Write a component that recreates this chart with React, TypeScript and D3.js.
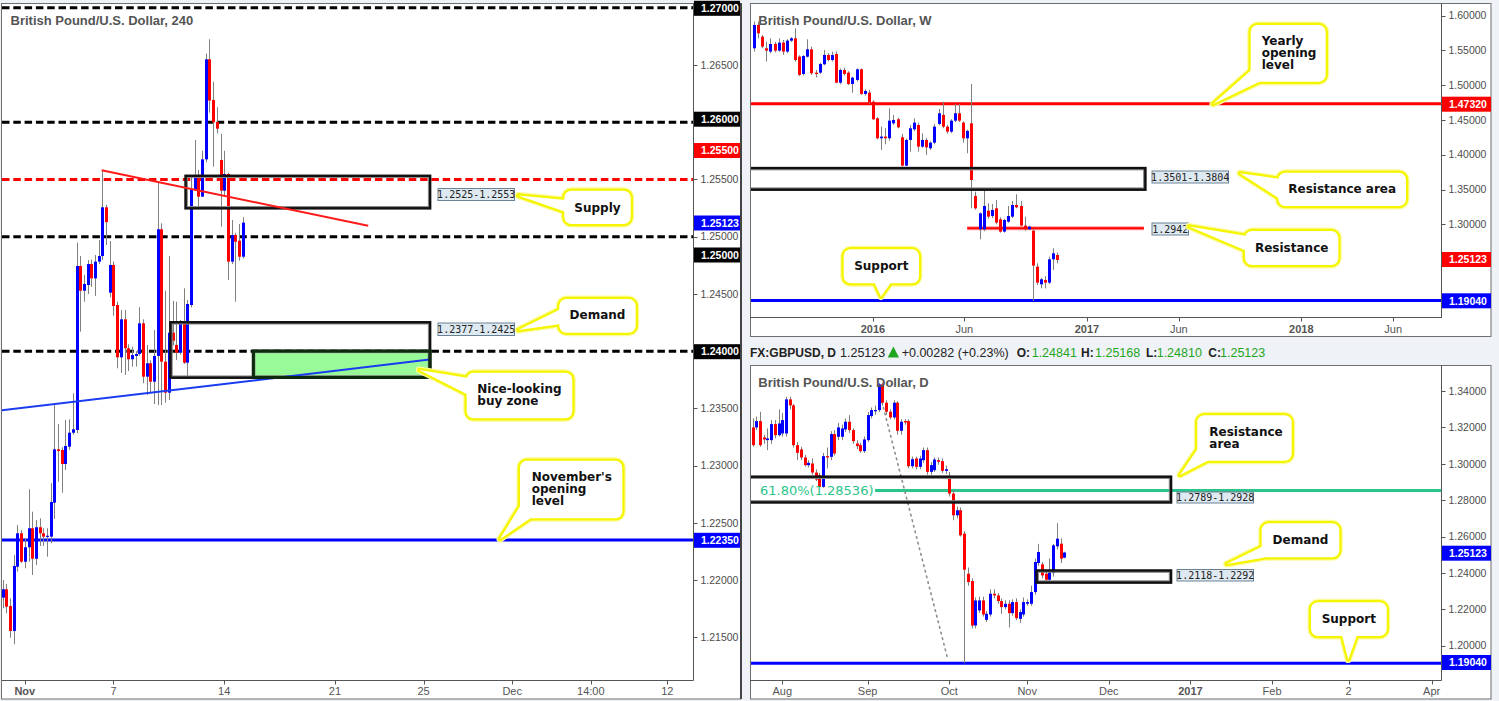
import React from "react";
import * as d3 from "d3";

type OHLC = [number, number, number, number];

// ---------- 4H chart (left) ----------
const h4Candles: OHLC[] = [
  [1.21846, 1.22, 1.21753, 1.21919],
  [1.21919, 1.21965, 1.21709, 1.21767],
  [1.21773, 1.2184, 1.21496, 1.21555],
  [1.21555, 1.22219, 1.21438, 1.22123],
  [1.22116, 1.22481, 1.22073, 1.22408],
  [1.22408, 1.22437, 1.2215, 1.2216],
  [1.2216, 1.22365, 1.22102, 1.22286],
  [1.22286, 1.22793, 1.2216, 1.22452],
  [1.22452, 1.22597, 1.22044, 1.22186],
  [1.22186, 1.22524, 1.22131, 1.22461],
  [1.22461, 1.22539, 1.22297, 1.22408],
  [1.22408, 1.22452, 1.22297, 1.22379],
  [1.22379, 1.22452, 1.22204, 1.22387],
  [1.22379, 1.22845, 1.22321, 1.22682],
  [1.22676, 1.23547, 1.22533, 1.23142],
  [1.23142, 1.23363, 1.22859, 1.23127],
  [1.23136, 1.2316, 1.22763, 1.23014],
  [1.23014, 1.23398, 1.22961, 1.23171],
  [1.23165, 1.23404, 1.23136, 1.23287],
  [1.23287, 1.23632, 1.2327, 1.23317],
  [1.23311, 1.24948, 1.23282, 1.24744],
  [1.24744, 1.24831, 1.2417, 1.24528],
  [1.24528, 1.24665, 1.24432, 1.24587],
  [1.24578, 1.24796, 1.24499, 1.24761],
  [1.24761, 1.248, 1.24563, 1.24636],
  [1.24636, 1.2484, 1.24482, 1.24782],
  [1.24782, 1.24971, 1.2476, 1.24831],
  [1.24831, 1.25583, 1.24796, 1.25257],
  [1.25257, 1.2528, 1.24927, 1.25128],
  [1.24511, 1.24962, 1.2447, 1.24753],
  [1.24753, 1.24782, 1.2431, 1.24394],
  [1.24403, 1.24432, 1.2385, 1.23946],
  [1.23946, 1.2436, 1.2381, 1.24278],
  [1.24278, 1.2436, 1.23792, 1.24025],
  [1.24025, 1.2406, 1.23826, 1.23929],
  [1.23929, 1.24039, 1.23864, 1.23966],
  [1.23958, 1.24, 1.23864, 1.23975],
  [1.23975, 1.24383, 1.2396, 1.24243],
  [1.24243, 1.24278, 1.23719, 1.23777],
  [1.23777, 1.24054, 1.23617, 1.23894],
  [1.23894, 1.2392, 1.2364, 1.23733],
  [1.23733, 1.24185, 1.23538, 1.23958],
  [1.23958, 1.25472, 1.23529, 1.25065],
  [1.25065, 1.25117, 1.23529, 1.23908],
  [1.23908, 1.24528, 1.2355, 1.23637],
  [1.23637, 1.24831, 1.23573, 1.24161],
  [1.24161, 1.2444, 1.2405, 1.24091],
  [1.24054, 1.24432, 1.23923, 1.23986],
  [1.23986, 1.24272, 1.2397, 1.24243],
  [1.24243, 1.24549, 1.23888, 1.23899],
  [1.23899, 1.24447, 1.23777, 1.24412],
  [1.24403, 1.2553, 1.24383, 1.25414],
  [1.25414, 1.25845, 1.254, 1.2553],
  [1.2553, 1.25583, 1.25262, 1.2535],
  [1.2535, 1.25751, 1.2535, 1.25676],
  [1.25676, 1.266, 1.2565, 1.2655],
  [1.2655, 1.26725, 1.26084, 1.2619],
  [1.26195, 1.26354, 1.25612, 1.26],
  [1.26002, 1.26131, 1.25904, 1.25944],
  [1.2567, 1.259, 1.25087, 1.25402],
  [1.25402, 1.25751, 1.25364, 1.25548],
  [1.25548, 1.25559, 1.24622, 1.24782],
  [1.24782, 1.25146, 1.2476, 1.25015],
  [1.25015, 1.25035, 1.24432, 1.24956],
  [1.24965, 1.25111, 1.2479, 1.24825],
  [1.24825, 1.2517, 1.2481, 1.25123],
];
const h4PriceTicks = [1.215, 1.22, 1.225, 1.23, 1.235, 1.245, 1.25, 1.255, 1.265];
const h4TimeTickIdx = [6, 30, 60, 90, 114, 138, 159.3, 180];
const h4TimeTickLabels = ["Nov", "7", "14", "21", "25", "Dec", "14:00", "12"];
const h4DashedBlack = [1.27, 1.26, 1.25, 1.24];
const h4DashedRed = [1.255];
const h4NovOpen = [1.2235];
const h4Supply = [49.6, 115.7, 1.2525, 1.2553];
const h4Demand = [45.5, 115.7, 1.2377, 1.2425];
const h4BuyZone = [67.9, 115.7, 1.2377, 1.24];
const h4RedTrend: [number, number][] = [[26.8, 1.2558], [99, 1.25096]];
const h4BlueTrend: [number, number][] = [[-0.6, 1.23481], [115.6, 1.23926]];

// ---------- Weekly chart (top right) ----------
const weeklyCandles: OHLC[] = [
  [1.5529, 1.5912, 1.5481, 1.5864],
  [1.5864, 1.5912, 1.5672, 1.5744],
  [1.5696, 1.572, 1.553, 1.5553],
  [1.5529, 1.5625, 1.5337, 1.5495],
  [1.5481, 1.5672, 1.5457, 1.5591],
  [1.5591, 1.562, 1.547, 1.5495],
  [1.5495, 1.5672, 1.5481, 1.561],
  [1.561, 1.5648, 1.5433, 1.5481],
  [1.5481, 1.566, 1.546, 1.5639],
  [1.5639, 1.569, 1.562, 1.5672],
  [1.5672, 1.5816, 1.5337, 1.5361],
  [1.5409, 1.543, 1.513, 1.5146],
  [1.516, 1.543, 1.514, 1.5419],
  [1.5409, 1.5658, 1.5395, 1.5514],
  [1.5514, 1.5553, 1.5146, 1.517],
  [1.5179, 1.5217, 1.5112, 1.516],
  [1.5179, 1.532, 1.516, 1.5304],
  [1.5299, 1.5505, 1.5285, 1.5433],
  [1.5433, 1.546, 1.534, 1.5361],
  [1.5361, 1.548, 1.534, 1.5433],
  [1.5447, 1.5481, 1.5026, 1.5035],
  [1.5035, 1.524, 1.501, 1.5217],
  [1.5217, 1.525, 1.514, 1.516],
  [1.5179, 1.52, 1.5, 1.5016],
  [1.5016, 1.512, 1.4892, 1.5107],
  [1.5074, 1.524, 1.505, 1.5227],
  [1.5227, 1.524, 1.486, 1.4873],
  [1.4873, 1.494, 1.485, 1.4916],
  [1.4892, 1.493, 1.473, 1.4748],
  [1.4762, 1.478, 1.45, 1.4509],
  [1.4523, 1.454, 1.422, 1.4236],
  [1.4236, 1.4403, 1.4068, 1.426],
  [1.426, 1.438, 1.415, 1.4236],
  [1.4236, 1.4667, 1.42, 1.4489],
  [1.4451, 1.4571, 1.443, 1.4499],
  [1.4509, 1.453, 1.438, 1.4394],
  [1.425, 1.43, 1.383, 1.3843],
  [1.3843, 1.423, 1.3835, 1.4212],
  [1.4212, 1.4427, 1.4044, 1.4379],
  [1.4365, 1.4523, 1.434, 1.4461],
  [1.4427, 1.446, 1.4044, 1.4116],
  [1.4116, 1.4307, 1.41, 1.4212],
  [1.4212, 1.424, 1.3996, 1.4106],
  [1.4092, 1.419, 1.407, 1.4173],
  [1.4173, 1.4442, 1.415, 1.4403],
  [1.4442, 1.4657, 1.442, 1.4595],
  [1.4571, 1.4762, 1.438, 1.4403],
  [1.4403, 1.443, 1.43, 1.4331],
  [1.4331, 1.451, 1.431, 1.4489],
  [1.4489, 1.4729, 1.447, 1.4595],
  [1.4595, 1.4729, 1.447, 1.4489],
  [1.4461, 1.448, 1.4173, 1.4236],
  [1.4236, 1.436, 1.402, 1.4341],
  [1.4451, 1.5016, 1.323, 1.3637],
  [1.3407, 1.3469, 1.321, 1.323],
  [1.2928, 1.317, 1.2784, 1.3158],
  [1.2928, 1.3493, 1.29, 1.3263],
  [1.3196, 1.3302, 1.308, 1.311],
  [1.312, 1.3292, 1.309, 1.3206],
  [1.323, 1.335, 1.3, 1.3024],
  [1.3072, 1.31, 1.288, 1.2895],
  [1.2895, 1.308, 1.288, 1.3062],
  [1.3038, 1.3263, 1.302, 1.312],
  [1.311, 1.3335, 1.309, 1.3278],
  [1.3278, 1.3431, 1.323, 1.3244],
  [1.3263, 1.3335, 1.297, 1.2981],
  [1.2981, 1.311, 1.291, 1.2928],
  [1.2928, 1.2981, 1.2919, 1.2966],
  [1.2909, 1.293, 1.1898, 1.2406],
  [1.2392, 1.244, 1.2128, 1.2162],
  [1.2138, 1.223, 1.208, 1.221],
  [1.22, 1.2258, 1.208, 1.2162],
  [1.2162, 1.2535, 1.214, 1.2497],
  [1.2497, 1.2655, 1.2344, 1.2583],
  [1.2559, 1.2593, 1.244, 1.2488],
];
const weeklyPriceTicks = [1.3, 1.35, 1.4, 1.45, 1.5, 1.55, 1.6];
const weeklyTimeTickIdx = [29, 51.3, 81.2, 103.6, 133.5, 155.9];
const weeklyTimeTickLabels = ["2016", "Jun", "2017", "Jun", "2018", "Jun"];
const weeklyYearlyOpen = [1.4732];
const weeklySupport = [1.1904];
const weeklyResArea = [-5, 95.4, 1.3501, 1.3804];
const weeklyResistance = [52, 95.1, 1.2942];

// ---------- Daily chart (bottom right) ----------
const dailyFirstIdx = -8;
const dailyCandles: OHLC[] = [
  [1.32002, 1.32498, 1.30937, 1.31028],
  [1.32002, 1.3259, 1.3186, 1.32351],
  [1.32351, 1.32865, 1.30937, 1.31028],
  [1.31451, 1.316, 1.311, 1.31341],
  [1.31304, 1.31947, 1.30753, 1.31396],
  [1.31304, 1.324, 1.311, 1.32185],
  [1.32185, 1.32406, 1.314, 1.31579],
  [1.31579, 1.32994, 1.315, 1.32222],
  [1.31671, 1.328, 1.315, 1.32406],
  [1.31671, 1.33691, 1.315, 1.33545],
  [1.33545, 1.33691, 1.33, 1.33214],
  [1.33214, 1.333, 1.309, 1.31028],
  [1.31028, 1.312, 1.30202, 1.30606],
  [1.3079, 1.30937, 1.302, 1.30349],
  [1.30349, 1.305, 1.2985, 1.29927],
  [1.29927, 1.302, 1.298, 1.30055],
  [1.30018, 1.30294, 1.294, 1.29522],
  [1.29522, 1.297, 1.2905, 1.29137],
  [1.29376, 1.295, 1.2865, 1.28733],
  [1.28733, 1.306, 1.2868, 1.30422],
  [1.30422, 1.309, 1.29743, 1.30349],
  [1.30386, 1.318, 1.302, 1.31635],
  [1.31635, 1.31855, 1.3045, 1.30569],
  [1.31488, 1.3225, 1.313, 1.32002],
  [1.31488, 1.3215, 1.313, 1.31947],
  [1.31892, 1.325, 1.3175, 1.32314],
  [1.32314, 1.32681, 1.317, 1.31855],
  [1.31855, 1.3195, 1.311, 1.31249],
  [1.3112, 1.313, 1.308, 1.30973],
  [1.31028, 1.3115, 1.306, 1.30698],
  [1.30698, 1.315, 1.306, 1.31341],
  [1.31304, 1.3285, 1.312, 1.32681],
  [1.32626, 1.331, 1.325, 1.32957],
  [1.3292, 1.332, 1.327, 1.32957],
  [1.32957, 1.3445, 1.3285, 1.34371],
  [1.34371, 1.3445, 1.332, 1.33361],
  [1.33361, 1.335, 1.327, 1.32865],
  [1.32865, 1.33, 1.3245, 1.32553],
  [1.32553, 1.335, 1.3245, 1.33361],
  [1.33361, 1.3345, 1.316, 1.31818],
  [1.31818, 1.3245, 1.316, 1.32314],
  [1.32351, 1.3245, 1.3215, 1.32277],
  [1.32351, 1.3245, 1.2975, 1.29871],
  [1.29871, 1.304, 1.2975, 1.30257],
  [1.30294, 1.304, 1.297, 1.29835],
  [1.29835, 1.3045, 1.297, 1.30294],
  [1.30202, 1.309, 1.3005, 1.30753],
  [1.30753, 1.309, 1.294, 1.29559],
  [1.29559, 1.301, 1.294, 1.29927],
  [1.29651, 1.3035, 1.2955, 1.30239],
  [1.30202, 1.3035, 1.2995, 1.3011],
  [1.30147, 1.303, 1.295, 1.29614],
  [1.29614, 1.299, 1.2945, 1.29706],
  [1.29192, 1.2955, 1.282, 1.28365],
  [1.28365, 1.2855, 1.269, 1.27172],
  [1.27172, 1.2765, 1.27, 1.27447],
  [1.27447, 1.276, 1.26, 1.2607],
  [1.26162, 1.263, 1.19036, 1.24178],
  [1.23958, 1.243, 1.233, 1.23499],
  [1.23554, 1.237, 1.2095, 1.21111],
  [1.21111, 1.2265, 1.2095, 1.22489],
  [1.21938, 1.227, 1.218, 1.22489],
  [1.22489, 1.227, 1.216, 1.21717],
  [1.21423, 1.219, 1.213, 1.21754],
  [1.21717, 1.231, 1.216, 1.22856],
  [1.22856, 1.231, 1.226, 1.22764],
  [1.22764, 1.229, 1.223, 1.22452],
  [1.22452, 1.226, 1.2175, 1.22121],
  [1.22121, 1.225, 1.22, 1.22305],
  [1.22305, 1.225, 1.21, 1.21791],
  [1.21791, 1.2255, 1.2165, 1.22397],
  [1.22397, 1.226, 1.214, 1.21515],
  [1.21478, 1.22, 1.2125, 1.21846],
  [1.21717, 1.2265, 1.216, 1.22397],
  [1.22305, 1.2255, 1.222, 1.22397],
  [1.22305, 1.233, 1.222, 1.22948],
  [1.22948, 1.248, 1.228, 1.24601],
  [1.24545, 1.256, 1.244, 1.25152],
  [1.24472, 1.246, 1.237, 1.23866],
  [1.23958, 1.241, 1.2355, 1.23627],
  [1.23627, 1.248, 1.2355, 1.2405],
  [1.23995, 1.256, 1.238, 1.25519],
  [1.25464, 1.2674, 1.253, 1.25886],
  [1.25611, 1.259, 1.2455, 1.24784],
  [1.24841, 1.25168, 1.2481, 1.25123],
];
const dailyPriceTicks = [1.2, 1.22, 1.24, 1.26, 1.28, 1.3, 1.32, 1.34];
const dailyTimeTickIdx = [0, 23, 45, 66, 88, 110, 132, 152.6, 175];
const dailyTimeTickLabels = ["Aug", "Sep", "Oct", "Nov", "Dec", "2017", "Feb", "2", "Apr"];
const dailyResArea = [-10, 104.7, 1.2789, 1.2928];
const dailyDemand = [68.6, 104.7, 1.23483, 1.24122];
const dailyFib = [25, 200, 1.28536];
const dailyFibTrend: [number, number][] = [[25.7, 1.34336], [44.5, 1.19333]];
const dailySupport = [1.1904];

const W = 1499;
const H = 701;
const SANS = "'Liberation Sans', Arial, sans-serif";
const BOLD = "'DejaVu Sans', Verdana, sans-serif";
const MONO = "'DejaVu Sans Mono', monospace";

function Candles({ data, x, y, offset = 0 }: any) {
  return (
    <g>
      {data.map((d: OHLC, j: number) => {
        const [o, h, l, c] = d;
        const cx = Math.round(x(j + offset));
        const up = c >= o;
        const yt = y(Math.max(o, c));
        const yb = y(Math.min(o, c));
        return (
          <g key={j}>
            <line x1={cx + 0.5} x2={cx + 0.5} y1={y(h)} y2={y(l)} stroke="#808080" strokeWidth={1} />
            <rect x={cx - 1} y={yt} width={3} height={Math.max(1.2, yb - yt)} fill={up ? "#0000ff" : "#ff0000"} />
          </g>
        );
      })}
    </g>
  );
}

function PriceTicks({ ticks, y, x0, decimals = 5 }: any) {
  return (
    <g>
      {ticks.map((t: number) => {
        const yy = Math.round(y(t)) + 0.5;
        return (
          <g key={t}>
            <line x1={x0} x2={x0 + 4} y1={yy} y2={yy} stroke="#555" strokeWidth={1} />
            <text x={x0 + 7} y={y(t)} dy="0.36em" fontSize={10.5} fontFamily={SANS} fill="#4d4d4d">
              {t.toFixed(decimals)}
            </text>
          </g>
        );
      })}
    </g>
  );
}

function PriceBox({ x0, yc, w, color, text }: any) {
  return (
    <g>
      <rect x={x0} y={yc - 7.5} width={w} height={15} fill={color} />
      <text x={x0 + 7} y={yc} dy="0.36em" fontSize={10.5} fontWeight="bold" fontFamily={SANS} fill="#fff">
        {text}
      </text>
    </g>
  );
}

function TimeTicks({ idx, labels, x, yAxis, yText, bold }: any) {
  return (
    <g>
      {idx.map((i: number, k: number) => {
        const xx = Math.round(x(i)) + 0.5;
        return (
          <g key={k}>
            <line x1={xx} x2={xx} y1={yAxis} y2={yAxis + 4} stroke="#555" strokeWidth={1} />
            <text
              x={x(i)}
              y={yText}
              dy="0.36em"
              textAnchor="middle"
              fontSize={11}
              fontWeight={bold.includes(labels[k]) ? "bold" : "normal"}
              fontFamily={SANS}
              fill="#555"
            >
              {labels[k]}
            </text>
          </g>
        );
      })}
    </g>
  );
}

function Callout({ box, pointer, lines, tx, ty, anchor = "start", lh = 12 }: any) {
  const [bx, by, bw, bh] = box;
  const tri = pointer.map((p: number[]) => p.join(",")).join(" ");
  return (
    <g>
      <polygon points={tri} fill="none" stroke="#fbfb9e" strokeWidth={7} strokeLinejoin="round" />
      <rect x={bx} y={by} width={bw} height={bh} rx={7} fill="none" stroke="#fbfb9e" strokeWidth={7} />
      <polygon points={tri} fill="none" stroke="#f5f500" strokeWidth={4.6} strokeLinejoin="round" />
      <rect x={bx} y={by} width={bw} height={bh} rx={7} fill="none" stroke="#f5f500" strokeWidth={4.6} />
      <polygon points={tri} fill="#fff" />
      <rect x={bx} y={by} width={bw} height={bh} rx={7} fill="#fff" />
      {lines.map((s: string, k: number) => (
        <text
          key={k}
          x={tx}
          y={ty + k * lh}
          dy="0.36em"
          textAnchor={anchor}
          fontSize={12}
          fontWeight="bold"
          fontFamily={BOLD}
          fill="#111"
        >
          {s}
        </text>
      ))}
    </g>
  );
}

function RangeLabel({ x, y, w, h, text }: any) {
  return (
    <g>
      <rect x={x + 0.5} y={y + 0.5} width={w} height={h} fill="#dfe9f1" stroke="#6a8296" strokeWidth={1} />
      <text x={x + w / 2 + 0.5} y={y + h / 2 + 0.5} dy="0.36em" textAnchor="middle" fontSize={10} fontFamily={MONO} fill="#222">
        {text}
      </text>
    </g>
  );
}

function ZoneRect({ r, x, y, fill = "none" }: any) {
  const [i0, i1, p0, p1] = r;
  const x0 = x(i0), x1 = x(i1), y0 = y(p1), y1 = y(p0);
  return (
    <g>
      <rect x={x0} y={y0} width={x1 - x0} height={y1 - y0} fill={fill} stroke="#111" strokeWidth={3} />
      <rect x={x0 + 1.5} y={y0 + 1.5} width={x1 - x0 - 3} height={y1 - y0 - 3} fill="none" stroke="#8a8a8a" strokeWidth={1} />
    </g>
  );
}

export default function App() {
  // scales
  const xL = d3.scaleLinear().domain([0, 65]).range([2.67, 242.67]);
  const yL = d3.scaleLinear().domain([1.22, 1.25]).range([580, 236.7]);
  const xW = d3.scaleLinear().domain([0, 74]).range([754, 1057.4]);
  const yW = d3.scaleLinear().domain([1.3, 1.6]).range([224.3, 15.5]);
  const xD = d3.scaleLinear().domain([0, 76]).range([782.3, 1064.3]);
  const yD = d3.scaleLinear().domain([1.2, 1.34]).range([645.7, 391.1]);

  const lineGen = (x: any, y: any) => d3.line<[number, number]>().x((d) => x(d[0])).y((d) => y(d[1]));

  const LEFT_R = 693.5;
  const RIGHT_R = 1441.5;

  return (
    <div style={{ position: "absolute", left: 0, top: 0, width: W, height: H }}>
      <svg width={W} height={H} style={{ display: "block" }}>
        <defs>
          <clipPath id="clipL">
            <rect x={2} y={4} width={LEFT_R - 2} height={676} />
          </clipPath>
          <clipPath id="clipW">
            <rect x={751} y={4} width={RIGHT_R - 751} height={313.5} />
          </clipPath>
          <clipPath id="clipD">
            <rect x={751} y={366} width={RIGHT_R - 751} height={314} />
          </clipPath>
        </defs>
        <rect width={W} height={H} fill="#eff2f6" />

        {/* ================= LEFT PANEL (4H) ================= */}
        <rect x={1.5} y={3.5} width={739} height={695.5} fill="#fff" stroke="#6e6e6e" strokeWidth={1} />
        <line x1={741} x2={741} y1={3} y2={699} stroke="#444" strokeWidth={2} />
        <g clipPath="url(#clipL)">
          {h4DashedBlack.map((p) => (
            <line key={p} x1={2} x2={LEFT_R} y1={yL(p)} y2={yL(p)} stroke="#000" strokeWidth={3} strokeDasharray="7.5 3.8" />
          ))}
          {h4DashedRed.map((p) => (
            <line key={p} x1={2} x2={LEFT_R} y1={yL(p)} y2={yL(p)} stroke="#ff0000" strokeWidth={3} strokeDasharray="7.5 3.8" />
          ))}
          {h4NovOpen.map((p) => (
            <line key={p} x1={2} x2={LEFT_R} y1={yL(p)} y2={yL(p)} stroke="#0000ff" strokeWidth={3} />
          ))}
          <ZoneRect r={h4BuyZone} x={xL} y={yL} fill="#98fb98" />
          <Candles data={h4Candles} x={xL} y={yL} />
          <ZoneRect r={h4Supply} x={xL} y={yL} />
          <ZoneRect r={h4Demand} x={xL} y={yL} />
          <path d={lineGen(xL, yL)(h4BlueTrend) || ""} stroke="#1a3cf0" strokeWidth={2} fill="none" />
          <path d={lineGen(xL, yL)(h4RedTrend) || ""} stroke="#ff1a1a" strokeWidth={2} fill="none" />
          <rect
            x={xL(h4BuyZone[0])}
            y={yL(h4BuyZone[3])}
            width={xL(h4BuyZone[1]) - xL(h4BuyZone[0])}
            height={yL(h4BuyZone[2]) - yL(h4BuyZone[3])}
            fill="none"
            stroke="#0d2a0d"
            strokeWidth={3}
          />
        </g>
        <text x={10.5} y={20.5} dy="0.36em" fontSize={13} fontWeight="bold" fontFamily={SANS} fill="#555">
          British Pound/U.S. Dollar, 240
        </text>
        <RangeLabel x={437.5} y={188} w={76.5} h={12} text="1.2525-1.2553" />
        <RangeLabel x={437.5} y={322.5} w={76.5} h={12.5} text="1.2377-1.2425" />
        <Callout
          box={[564.3, 190.7, 66.4, 33.3]}
          pointer={[[566, 200], [518.3, 195.5], [566, 212]]}
          lines={["Supply"]}
          tx={597.5}
          ty={207.3}
          anchor="middle"
        />
        <Callout
          box={[559.3, 299, 76.4, 33.7]}
          pointer={[[561, 309], [518.3, 330], [561, 324]]}
          lines={["Demand"]}
          tx={597.5}
          ty={315}
          anchor="middle"
        />
        <Callout
          box={[466.7, 372.7, 105.6, 45.6]}
          pointer={[[468.5, 378], [419.3, 370], [468.5, 395]]}
          lines={["Nice-looking", "buy zone"]}
          tx={477.3}
          ty={388.3}
        />
        <Callout
          box={[520, 460.7, 102.3, 57.6]}
          pointer={[[522, 503], [500, 539], [533, 516.5]]}
          lines={["November's", "opening", "level"]}
          tx={531.7}
          ty={476.7}
        />
        {/* axes */}
        <line x1={LEFT_R} x2={LEFT_R} y1={3} y2={680.5} stroke="#555" strokeWidth={1} />
        <line x1={2} x2={LEFT_R} y1={680.5} y2={680.5} stroke="#555" strokeWidth={1} />
        <PriceTicks ticks={h4PriceTicks} y={yL} x0={LEFT_R} />
        <PriceBox x0={694} yc={8.3} w={46} color="#000" text="1.27000" />
        <PriceBox x0={694} yc={119.2} w={46} color="#000" text="1.26000" />
        <PriceBox x0={694} yc={150.5} w={46} color="#ff0000" text="1.25500" />
        <PriceBox x0={694} yc={223} w={46} color="#0000ff" text="1.25123" />
        <PriceBox x0={694} yc={255} w={46} color="#000" text="1.25000" />
        <PriceBox x0={694} yc={351.7} w={46} color="#000" text="1.24000" />
        <PriceBox x0={694} yc={540.3} w={46} color="#0000ff" text="1.22350" />
        <TimeTicks idx={h4TimeTickIdx} labels={h4TimeTickLabels} x={xL} yAxis={680.5} yText={690.7} bold={["Nov"]} />

        {/* ================= WEEKLY PANEL ================= */}
        <rect x={750.5} y={3.5} width={740.5} height={333} fill="#fff" stroke="#6e6e6e" strokeWidth={1} />
        <g clipPath="url(#clipW)">
          {weeklyYearlyOpen.map((p) => (
            <line key={p} x1={750} x2={RIGHT_R} y1={yW(p)} y2={yW(p)} stroke="#ff0000" strokeWidth={3} />
          ))}
          {weeklySupport.map((p) => (
            <line key={p} x1={750} x2={RIGHT_R} y1={yW(p)} y2={yW(p)} stroke="#0000ff" strokeWidth={3} />
          ))}
          <line
            x1={xW(weeklyResistance[0])}
            x2={xW(weeklyResistance[1])}
            y1={yW(weeklyResistance[2])}
            y2={yW(weeklyResistance[2])}
            stroke="#ff9a9a"
            strokeWidth={4}
          />
          <line
            x1={xW(weeklyResistance[0])}
            x2={xW(weeklyResistance[1])}
            y1={yW(weeklyResistance[2])}
            y2={yW(weeklyResistance[2])}
            stroke="#ff0000"
            strokeWidth={2}
          />
          <Candles data={weeklyCandles} x={xW} y={yW} />
          <ZoneRect r={weeklyResArea} x={xW} y={yW} />
        </g>
        <text x={758.3} y={20.5} dy="0.36em" fontSize={13} fontWeight="bold" fontFamily={SANS} fill="#555">
          British Pound/U.S. Dollar, W
        </text>
        <RangeLabel x={1151.5} y={170.5} w={76.5} h={12} text="1.3501-1.3804" />
        <RangeLabel x={1151.5} y={222.5} w={36.5} h={12} text="1.2942" />
        <Callout
          box={[1250.7, 25, 75, 56.7]}
          pointer={[[1252.5, 69], [1213, 104], [1263, 80]]}
          lines={["Yearly", "opening", "level"]}
          tx={1261.7}
          ty={40.7}
        />
        <Callout
          box={[1278.3, 172.7, 127.7, 33.3]}
          pointer={[[1280, 179], [1240, 173.3], [1280, 199]]}
          lines={["Resistance area"]}
          tx={1342.2}
          ty={188.7}
          anchor="middle"
        />
        <Callout
          box={[1245, 231, 93.3, 34]}
          pointer={[[1247, 236], [1189, 226.5], [1247, 251]]}
          lines={["Resistance"]}
          tx={1291.7}
          ty={247.3}
          anchor="middle"
        />
        <Callout
          box={[843.7, 249.3, 75.3, 34]}
          pointer={[[874, 281.5], [881, 296.5], [891.7, 281.5]]}
          lines={["Support"]}
          tx={881.3}
          ty={265.7}
          anchor="middle"
        />
        <line x1={RIGHT_R} x2={RIGHT_R} y1={3} y2={318} stroke="#555" strokeWidth={1} />
        <line x1={750} x2={RIGHT_R} y1={317.5} y2={317.5} stroke="#555" strokeWidth={1} />
        <PriceTicks ticks={weeklyPriceTicks} y={yW} x0={RIGHT_R} />
        <PriceBox x0={1442} yc={104.2} w={49} color="#ff0000" text="1.47320" />
        <PriceBox x0={1442} yc={259.5} w={49} color="#ff0000" text="1.25123" />
        <PriceBox x0={1442} yc={300.8} w={49} color="#0000ff" text="1.19040" />
        <TimeTicks
          idx={weeklyTimeTickIdx}
          labels={weeklyTimeTickLabels}
          x={xW}
          yAxis={317.5}
          yText={329.3}
          bold={["2016", "2017", "2018"]}
        />

        {/* ================= DAILY PANEL ================= */}
        <g fontFamily={SANS} fontSize={12.5}>
          <text x={750} y={352.5} dy="0.36em" fontWeight="bold" fontSize={12} fill="#222">FX:GBPUSD, D</text>
          <text x={840} y={352.5} dy="0.36em" fill="#222">1.25123</text>
          <polygon points="887.7,357.5 893.4,346.5 899,357.5" fill="#1fa51f" />
          <text x={901.7} y={352.5} dy="0.36em" fill="#222">+0.00282 (+0.23%)</text>
          <text x={1016.7} y={352.5} dy="0.36em" fontWeight="bold" fontSize={12} fill="#222">O:</text>
          <text x={1031.7} y={352.5} dy="0.36em" fill="#1fa51f">1.24841</text>
          <text x={1081} y={352.5} dy="0.36em" fontWeight="bold" fontSize={12} fill="#222">H:</text>
          <text x={1095} y={352.5} dy="0.36em" fill="#1fa51f">1.25168</text>
          <text x={1146} y={352.5} dy="0.36em" fontWeight="bold" fontSize={12} fill="#222">L:</text>
          <text x={1156.7} y={352.5} dy="0.36em" fill="#1fa51f">1.24810</text>
          <text x={1208.3} y={352.5} dy="0.36em" fontWeight="bold" fontSize={12} fill="#222">C:</text>
          <text x={1220} y={352.5} dy="0.36em" fill="#1fa51f">1.25123</text>
        </g>
        <rect x={750.5} y={365.5} width={740.5} height={333.5} fill="#fff" stroke="#6e6e6e" strokeWidth={1} />
        <g clipPath="url(#clipD)">
          {dailySupport.map((p) => (
            <line key={p} x1={750} x2={RIGHT_R} y1={yD(p)} y2={yD(p)} stroke="#0000ff" strokeWidth={3} />
          ))}
          <line
            x1={xD(dailyFib[0])}
            x2={xD(dailyFib[1])}
            y1={yD(dailyFib[2])}
            y2={yD(dailyFib[2])}
            stroke="#2bc58b"
            strokeWidth={3}
          />
          <path
            d={lineGen(xD, yD)(dailyFibTrend) || ""}
            stroke="#8c8c8c"
            strokeWidth={1.6}
            strokeDasharray="1.6 4.2"
            strokeLinecap="round"
            fill="none"
          />
          <Candles data={dailyCandles} x={xD} y={yD} offset={dailyFirstIdx} />
          <ZoneRect r={dailyResArea} x={xD} y={yD} />
          <ZoneRect r={dailyDemand} x={xD} y={yD} />
        </g>
        <text x={760} y={yD(dailyFib[2])} dy="0.36em" fontSize={13} fontFamily="'DejaVu Sans', sans-serif" fill="#2bc58b">
          61.80%(1.28536)
        </text>
        <text x={758.3} y={382.7} dy="0.36em" fontSize={13} fontWeight="bold" fontFamily={SANS} fill="#555">
          British Pound/U.S. Dollar, D
        </text>
        <RangeLabel x={1176.5} y={491.5} w={76.5} h={11} text="1.2789-1.2928" />
        <RangeLabel x={1176.5} y={569} w={76.5} h={11.5} text="1.2118-1.2292" />
        <Callout
          box={[1197.3, 415.3, 94.4, 45.4]}
          pointer={[[1199, 447], [1180, 475], [1211, 459]]}
          lines={["Resistance", "area"]}
          tx={1209.3}
          ty={431.7}
        />
        <Callout
          box={[1261.7, 523.3, 77.6, 34]}
          pointer={[[1263.5, 546], [1226.7, 564], [1276, 555.5]]}
          lines={["Demand"]}
          tx={1300.5}
          ty={539.3}
          anchor="middle"
        />
        <Callout
          box={[1311, 602.3, 75.7, 33.7]}
          pointer={[[1341.7, 634], [1348.3, 659.5], [1357.3, 634]]}
          lines={["Support"]}
          tx={1348.8}
          ty={618.3}
          anchor="middle"
        />
        <line x1={RIGHT_R} x2={RIGHT_R} y1={365} y2={680.5} stroke="#555" strokeWidth={1} />
        <line x1={750} x2={RIGHT_R} y1={680.5} y2={680.5} stroke="#555" strokeWidth={1} />
        <PriceTicks ticks={dailyPriceTicks} y={yD} x0={RIGHT_R} />
        <PriceBox x0={1442} yc={553.2} w={49} color="#0000ff" text="1.25123" />
        <PriceBox x0={1442} yc={662.5} w={49} color="#0000ff" text="1.19040" />
        <TimeTicks
          idx={dailyTimeTickIdx}
          labels={dailyTimeTickLabels}
          x={xD}
          yAxis={680.5}
          yText={691}
          bold={["2017"]}
        />
      </svg>
    </div>
  );
}
